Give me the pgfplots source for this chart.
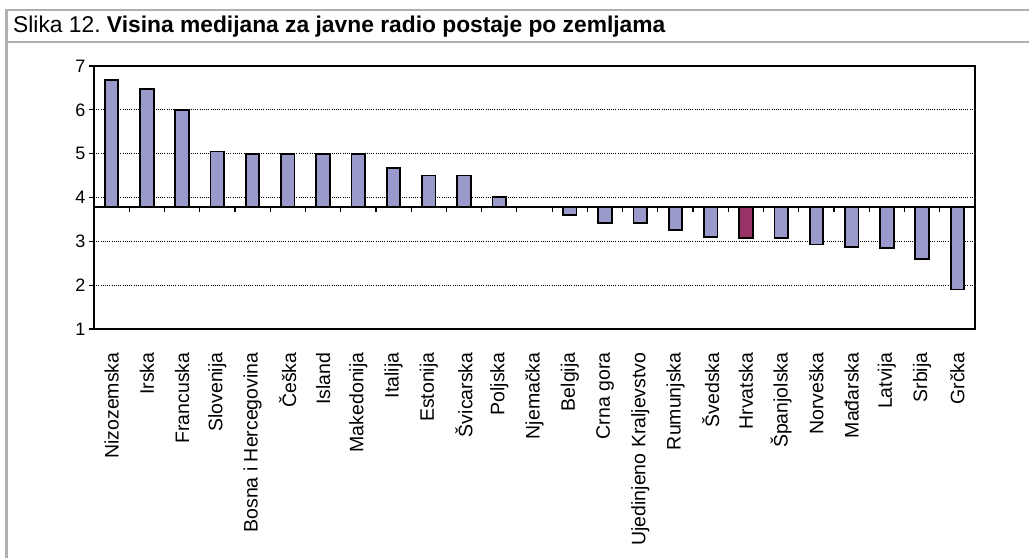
\documentclass[border=0pt]{standalone}
\usepackage{pgfplots}
\pgfplotsset{compat=1.18}
\usepackage{pgfplotstable}
\usepackage{fontspec}
\setmainfont{Liberation Sans}
\definecolor{barblue}{HTML}{9999CC}
\definecolor{barred}{HTML}{993366}
\definecolor{framegray}{HTML}{B0B0B0}
% values (median heights); baseline of the chart at 3.78
\pgfplotstableread{
i v
0 6.68
1 6.47
2 6.00
3 5.05
4 5.00
5 5.00
6 5.00
7 5.00
8 4.67
9 4.50
10 4.50
11 4.01
12 3.78
13 3.60
14 3.41
15 3.41
16 3.25
17 3.09
19 3.07
20 2.93
21 2.87
22 2.84
23 2.59
24 1.90
}\datatable
\pgfplotstableread{
i v
18 3.07
}\hrdata
\begin{document}
\begin{tikzpicture}
\useasboundingbox (0pt,0pt) rectangle (1029pt,558pt);
\draw[framegray, line width=2.5pt] (6.3pt,0pt) -- (6.3pt,548pt) -- (1029pt,548pt);
\draw[framegray, line width=2.5pt] (6.3pt,516pt) -- (1029pt,516pt);
\node[anchor=base west, inner sep=0pt, font=\fontsize{22.8}{27}\selectfont] at (13pt,525pt)
  {Slika 12.\ \textbf{Visina medijana za javne radio postaje po zemljama}};
\coordinate (AX) at (94pt,229pt);
\begin{axis}[
  at={(AX)}, anchor=south west,
  scale only axis, width=881pt, height=263pt,
  xmin=-0.5, xmax=24.5,
  ymin=-2.78, ymax=3.22,
  ytick={-2.78,-1.78,-0.78,0.22,1.22,2.22,3.22},
  yticklabels={1,2,3,4,5,6,7},
  xtick={0,...,24},
  xticklabels={Nizozemska,Irska,Francuska,Slovenija,Bosna i Hercegovina,Češka,Island,Makedonija,Italija,Estonija,Švicarska,Poljska,Njemačka,Belgija,Crna gora,Ujedinjeno Kraljevstvo,Rumunjska,Švedska,Hrvatska,Španjolska,Norveška,Mađarska,Latvija,Srbija,Grčka},
  xtick style={draw=none},
  xtick pos=bottom, ytick pos=left,
  tick align=outside, major tick length=5pt,
  ytick style={black, line width=1.2pt},
  axis line style={black, line width=1.5pt},
  ymajorgrids,
  grid style={black, line width=0.9pt, dash pattern=on 1pt off 1.2pt},
  xticklabel shift=15pt,
  xticklabel style={rotate=90, anchor=east, font=\fontsize{19.5}{21}\selectfont},
  yticklabel style={font=\fontsize{18}{20}\selectfont},
  /pgf/number format/assume math mode=true,
]
\addplot[ybar, bar width=13.5pt, bar shift=0pt, fill=barblue, draw=black, line width=1.8pt]
  table[x=i, y expr=\thisrow{v}-3.78] {\datatable};
\addplot[ybar, bar width=13.5pt, bar shift=0pt, fill=barred, draw=black, line width=1.8pt]
  table[x=i, y expr=\thisrow{v}-3.78] {\hrdata};
\draw[black, line width=1.5pt] (axis cs:-0.5,0) -- (axis cs:24.5,0);
\pgfplotsinvokeforeach{0.5,1.5,...,23.5}{\draw[black, line width=1.2pt] (axis cs:#1,0) -- ++(0pt,-5pt);}
\end{axis}
\end{tikzpicture}
\end{document}
